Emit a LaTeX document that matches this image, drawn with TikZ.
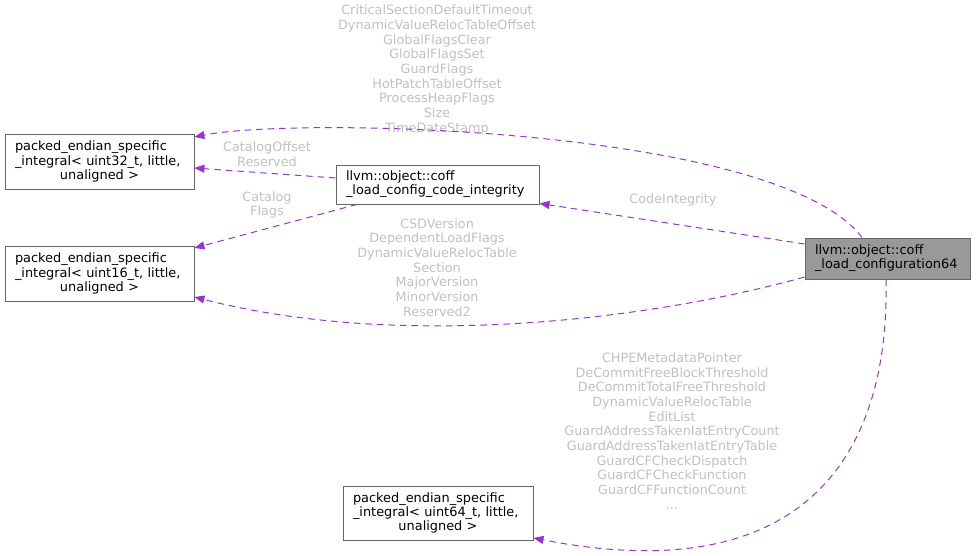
\documentclass[tikz,border=0pt]{standalone}
\usepackage{fontspec}
\setmainfont{DejaVu Sans}
\usepackage{xcolor}
\usepackage{tikz}
\usetikzlibrary{arrows.meta,positioning}
\definecolor{edgepurple}{HTML}{9A32CD}
\definecolor{nodeborder}{HTML}{666666}
\definecolor{mainfill}{HTML}{999999}
\definecolor{labelgrey}{HTML}{C0C0C0}
\tikzset{
  classnode/.style={rectangle, draw=nodeborder, fill=white, line width=0.9pt, align=left, inner sep=0pt, font=\fontsize{12.9}{14.2}\selectfont},
  mainnode/.style={classnode, fill=mainfill},
  memberlabel/.style={align=center, inner sep=0pt, text=labelgrey, font=\fontsize{12.8}{14.7}\selectfont},
  useedge/.style={-{Triangle[length=10pt, width=8pt]}, dash pattern=on 6.5pt off 5pt, line width=1pt, draw=edgepurple}
}
\newcommand{\ctrline}[1]{\hspace*{\fill}#1\hspace*{\fill}\null}

\begin{document}
\begin{tikzpicture}[x=1pt, y=-1pt]
  \useasboundingbox (0,0) rectangle (976,556);
  % classes
  \node[mainnode, minimum width=165pt, minimum height=41pt, text width=145pt] (loadcfg) at (887.5,258.5) {llvm::object::coff\\\_load\_configuration64};
  \node[classnode, minimum width=203pt, minimum height=39pt, text width=183pt] (codeint) at (437.5,184.5) {llvm::object::coff\\\_load\_config\_code\_integrity};
  \node[classnode, minimum width=189pt, minimum height=55pt, text width=169pt] (u32) at (99.5,161.5) {packed\_endian\_specific\\\_integral< uint32\_t, little,\\\ctrline{unaligned >}};
  \node[classnode, minimum width=189pt, minimum height=55pt, text width=169pt] (u16) at (99.5,273.5) {packed\_endian\_specific\\\_integral< uint16\_t, little,\\\ctrline{unaligned >}};
  \node[classnode, minimum width=190pt, minimum height=54pt, text width=170pt] (u64) at (438,513) {packed\_endian\_specific\\\_integral< uint64\_t, little,\\\ctrline{unaligned >}};
  % member labels
  \node[memberlabel] (u32lbl) at (437,70) {CriticalSectionDefaultTimeout\\DynamicValueRelocTableOffset\\GlobalFlagsClear\\GlobalFlagsSet\\GuardFlags\\HotPatchTableOffset\\ProcessHeapFlags\\Size\\TimeDateStamp};
  \node[memberlabel] (catofflbl) at (267,154.5) {CatalogOffset\\Reserved};
  \node[memberlabel] (catlbl) at (267,205) {Catalog\\Flags};
  \node[memberlabel] (cilbl) at (673,200) {CodeIntegrity};
  \node[memberlabel] (u16lbl) at (437,267.5) {CSDVersion\\DependentLoadFlags\\DynamicValueRelocTable\\Section\\MajorVersion\\MinorVersion\\Reserved2};
  \node[memberlabel] (u64lbl) at (672,431) {CHPEMetadataPointer\\DeCommitFreeBlockThreshold\\DeCommitTotalFreeThreshold\\DynamicValueRelocTable\\EditList\\GuardAddressTakenIatEntryCount\\GuardAddressTakenIatEntryTable\\GuardCFCheckDispatch\\GuardCFCheckFunction\\GuardCFFunctionCount\\...};
  % usage edges
  \draw[useedge] ([xshift=-25.5pt]loadcfg.north) .. controls (780,128) and (300,116) .. ([yshift=24.5pt]u32.east);
  \draw[useedge] ([yshift=6.5pt]codeint.west) -- ([yshift=-6.5pt]u32.east);
  \draw[useedge] ([xshift=-80.5pt]codeint.south) -- ([yshift=25.5pt]u16.east);
  \draw[useedge] ([yshift=14.5pt]loadcfg.west) -- ([yshift=1pt]codeint.south east);
  \draw[useedge] ([yshift=-18.5pt]loadcfg.west) .. controls (650,320) and (400,350) .. ([yshift=-23.5pt]u16.east);
  \draw[useedge] ([xshift=-1.5pt]loadcfg.south) .. controls (890,460) and (800,590) .. ([yshift=-25pt]u64.east);
\end{tikzpicture}
\end{document}
